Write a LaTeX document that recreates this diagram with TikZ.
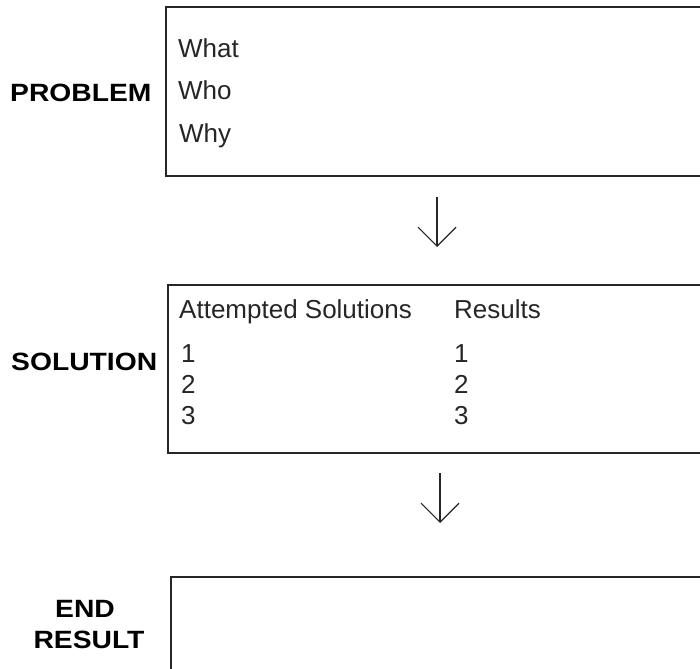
\documentclass[tikz,border=0pt]{standalone}
\usepackage{fontspec}
\setmainfont{Liberation Sans}
\newfontfamily\headfont{Liberation Sans}[FakeStretch=1.13]
\usetikzlibrary{arrows.meta}
\begin{document}
\begin{tikzpicture}[x=1pt,y=-1pt,
  frame/.style={draw=black!85, line width=1.7pt, anchor=north west, inner sep=0pt, minimum width=640pt},
  entry/.style={anchor=base west, inner sep=0pt, text=black!85, font=\fontsize{26}{30}\selectfont},
  head/.style={inner sep=0pt, text=black, font=\headfont\bfseries\fontsize{25}{30}\selectfont},
  flow/.style={draw=black!85, line width=1.4pt,
    -{Straight Barb[length=19pt,width=38pt,line width=1.1pt]}}]
\clip (0,0) rectangle (700,668);
\fill[white] (0,0) rectangle (700,668);

% the three stage frames (they run past the right and bottom edges)
\node[frame, minimum height=169pt] (problem) at (165,6) {};
\node[frame, minimum height=168pt] (solution) at (167,284) {};
\node[frame, minimum height=200pt] (endresult) at (170,576) {};

% stage headings
\node[head, anchor=base west] (hprob) at (10,101.5) {PROBLEM};
\node[head, anchor=base west] (hsol) at (11,370) {SOLUTION};
\node[head, anchor=base] (hend) at (85,617) {END};
\node[head, anchor=base] (hres) at (89,648) {RESULT};

% problem entries
\node[entry] (what) at (178,57.7) {What};
\node[entry] (who) at (178,100) {Who};
\node[entry] (why) at (179,143) {Why};

% solution table
\node[entry] (att) at (179,318) {Attempted Solutions};
\node[entry] (res) at (454,318) {Results};
\node[entry] (a1) at (181,362) {1};
\node[entry] (a2) at (181,393) {2};
\node[entry] (a3) at (181,424) {3};
\node[entry] (r1) at (454,362) {1};
\node[entry] (r2) at (454,393) {2};
\node[entry] (r3) at (454,424) {3};

% flow arrows between the stages
\coordinate (f1s) at (437,197);
\coordinate (f1e) at (437,247);
\coordinate (f2s) at (440,473);
\coordinate (f2e) at (440,523);
\draw[flow] (f1s) -- (f1e);
\draw[flow] (f2s) -- (f2e);
\end{tikzpicture}
\end{document}
